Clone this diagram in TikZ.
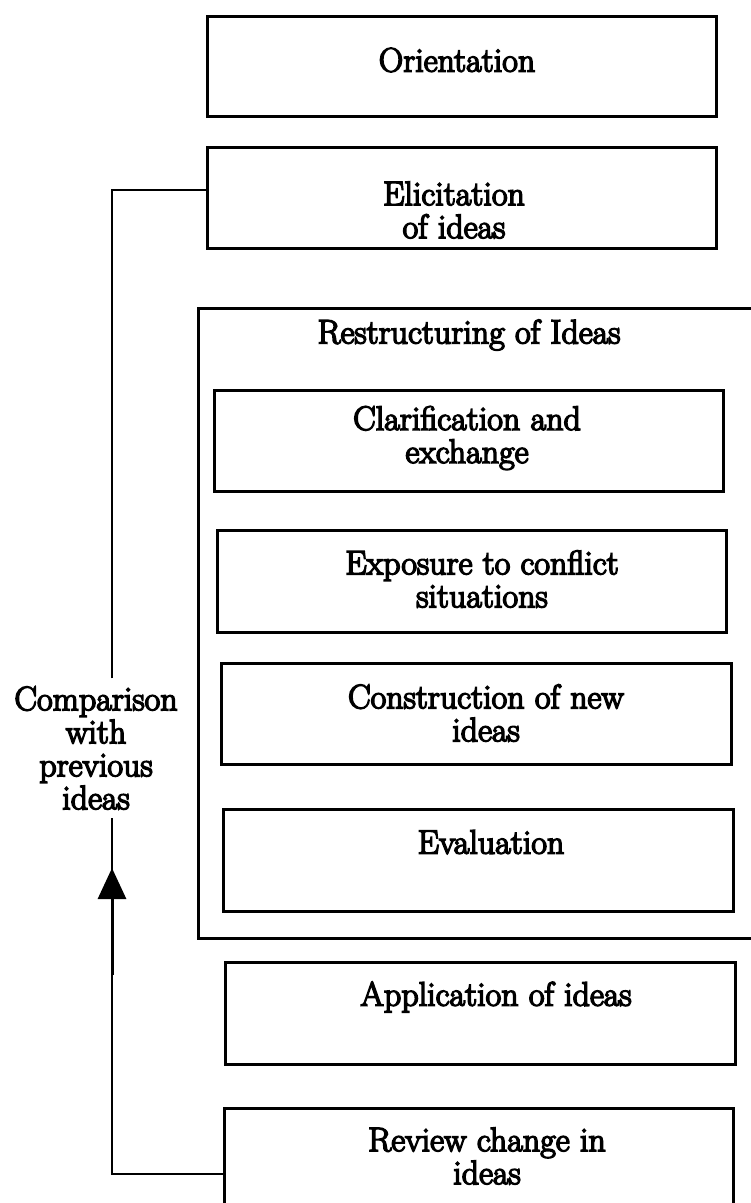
\documentclass[tikz,border=0pt]{standalone}
\usepackage{fontspec}
\newfontfamily\dfont{Latin Modern Roman}[FakeBold=4.5]
\usetikzlibrary{arrows.meta}
\tikzset{
  box/.style={draw, line width=3pt, rectangle, inner sep=0pt},
  txt/.style={font=\dfont\fontsize{34}{33}\selectfont, align=center, inner sep=0pt},
  conn/.style={line width=1.6pt},
  thickarrow/.style={line width=3pt, -{Triangle[length=31pt, width=28pt]}}
}
\begin{document}
\begin{tikzpicture}[x=1pt, y=-1pt]
\useasboundingbox (0,0) rectangle (751,1203);
\clip (0,0) rectangle (751,1203);
% boxes
\node[box, minimum width=509pt, minimum height=100pt] (orient) at (461.5,66) {};
\node[box, minimum width=509pt, minimum height=101pt] (elic) at (461.5,197.5) {};
\node[box, minimum width=562pt, minimum height=630pt] (restr) at (479.5,623) {};
\node[box, minimum width=509pt, minimum height=101pt] (clar) at (468.5,440.5) {};
\node[box, minimum width=509pt, minimum height=102pt] (expo) at (471.5,581) {};
\node[box, minimum width=510pt, minimum height=101pt] (cons) at (476,713.5) {};
\node[box, minimum width=510pt, minimum height=102pt] (eval) at (478,860) {};
\node[box, minimum width=510pt, minimum height=102pt] (appl) at (480,1013) {};
\node[box, minimum width=509pt, minimum height=107pt] (review) at (478.5,1161.5) {};
% texts
\node[txt] (orientT) at (457,60) {Orientation};
\node[txt] (elicT) at (454,210) {Elicitation\\of ideas};
\node[txt] (restrT) at (469,335) {Restructuring of Ideas};
\node[txt] (clarT) at (467,438) {Clarification and\\exchange};
\node[txt] (expoT) at (482,579) {Exposure to conflict\\situations};
\node[txt] (consT) at (486,713) {Construction of new\\ideas};
\node[txt] (evalT) at (491,842) {Evaluation};
\node[txt] (applT) at (496,997) {Application of ideas};
\node[txt] (reviewT) at (487,1156) {Review change in\\ideas};
\node[txt, inner ysep=8pt] (cmp) at (96,748) {Comparison\\with\\previous\\ideas};
% connectors
\coordinate (c1) at (112,1174);
\coordinate (c2) at (112,190);
\coordinate (a1) at (112,975);
\coordinate (a2) at (112,868);
\draw[conn] (review.west |- c1) -- (c1) -- (cmp.south -| c1);
\draw[conn] (cmp.north -| c2) -- (c2) -- (elic.west |- c2);
\draw[thickarrow] (a1) -- (a2);
\end{tikzpicture}
\end{document}
